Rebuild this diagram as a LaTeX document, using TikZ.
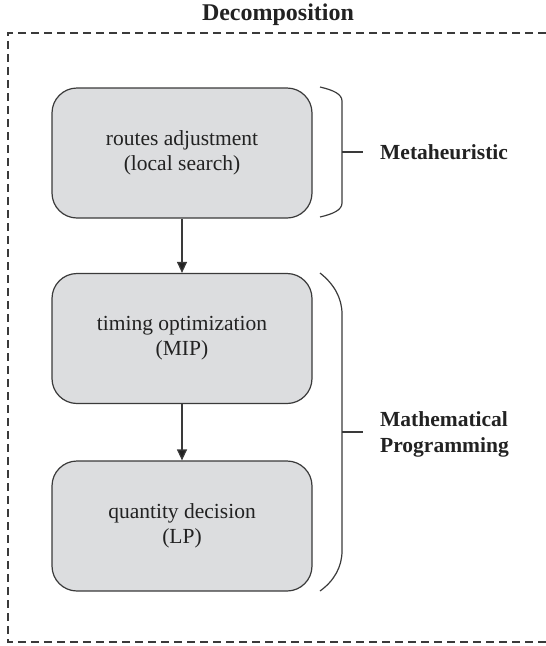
\documentclass[tikz,border=0pt]{standalone}
\usepackage{fontspec}
\setmainfont{Liberation Serif}
\usetikzlibrary{arrows.meta}
\definecolor{boxfill}{HTML}{DCDDDF}
\definecolor{linecol}{HTML}{3A3A3A}
\definecolor{txtcol}{HTML}{222222}
\begin{document}
\begin{tikzpicture}[x=1pt,y=-1pt,
  stage/.style={draw=linecol,line width=1.2pt,fill=boxfill,rounded corners=25pt,
    minimum width=260pt,minimum height=130pt,align=center,
    font=\fontsize{21.5}{25}\selectfont,text=txtcol,inner sep=0pt},
  flow/.style={draw=linecol,line width=1.2pt,-{Triangle[length=11pt,width=10pt,fill=txtcol]}},
  bracecurve/.style={draw=linecol,line width=1.2pt},
  lbl/.style={anchor=west,align=left,font=\fontsize{21.5}{26}\selectfont\bfseries,text=txtcol,inner sep=0pt},
  frame/.style={draw=linecol,line width=1.1pt,dash pattern=on 8pt off 5pt}]
\useasboundingbox (0,0) rectangle (546,646);
\node[font=\fontsize{24}{28}\selectfont\bfseries,text=txtcol] (title) at (278,15) {Decomposition};
\draw[frame] (546,33) -- (8,33) -- (8,642) -- (546,642);
\node[stage] (s1) at (182,153) {routes adjustment\\(local search)};
\node[stage] (s2) at (182,338.5) {timing optimization\\(MIP)};
\node[stage] (s3) at (182,526) {quantity decision\\(LP)};
\draw[flow] (s1) -- (s2);
\draw[flow] (s2) -- (s3);
% braces
\draw[bracecurve] (320,87) .. controls (333,90) and (342,94) .. (342,101) -- (342,203) .. controls (342,210) and (333,214) .. (320,217);
\draw[bracecurve] (320,273) .. controls (334,284) and (342,298) .. (342,314) -- (342,551) .. controls (342,567) and (334,581) .. (320,591);
\coordinate (b1) at (342,152);
\coordinate (b2) at (342,432);
\node[lbl] (m1) at (380,152) {Metaheuristic};
\node[lbl] (m2) at (380,434) {Mathematical\\Programming};
\draw[bracecurve] (b1) -- ++(21,0);
\draw[bracecurve] (b2) -- ++(21,0);
\end{tikzpicture}
\end{document}
